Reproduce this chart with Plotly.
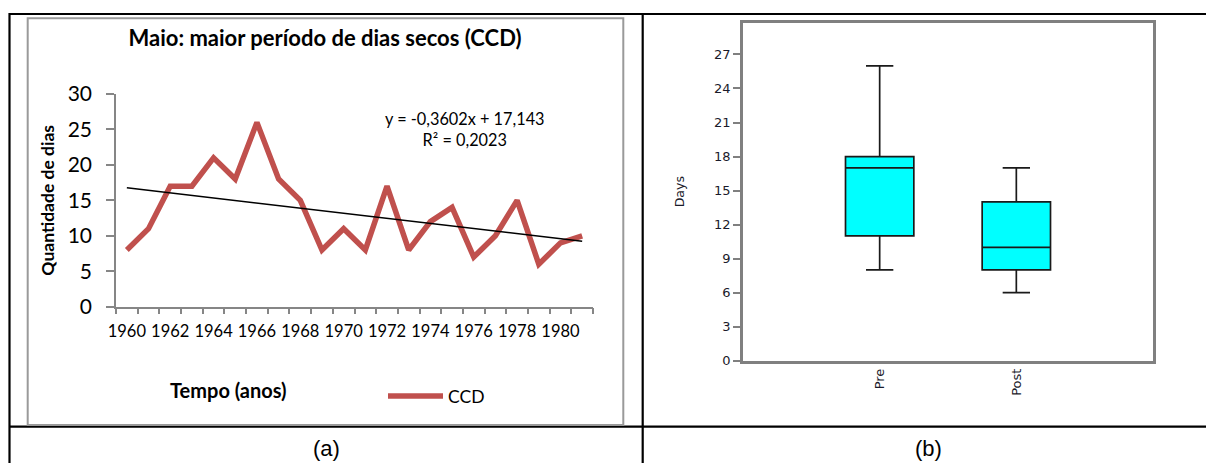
import plotly.graph_objects as go

# ---------------- data ----------------
years = list(range(1960, 1982))
ccd = [8, 11, 17, 17, 21, 18, 26, 18, 15, 8, 11, 8, 17, 8, 12, 14, 7, 10, 15, 6, 9, 10]
trend_slope = -0.3602
trend_intercept = 17.143
trend_r2 = "0,2023"
year_ticks = years[::2]

groups = ["Pre", "Post"]
pre_values = ccd[:11]
post_values = ccd[11:]
days_ticks = list(range(0, 28, 3))

# ---------------- helpers ----------------
W, H = 1206, 463


def px(x):
    return x / W


def py(y):
    return 1 - y / H


trend = [trend_slope * (i + 1) + trend_intercept for i in range(len(years))]

LATO = "Lato, Carlito, Calibri, sans-serif"
TAHOMA = "DejaVu Sans, Tahoma, sans-serif"
AXIS_GRAY = "#868686"

fig = go.Figure()

fig.add_trace(go.Scatter(
    x=years, y=ccd, mode="lines", name="CCD",
    line=dict(color="#C0504D", width=5.5),
    xaxis="x", yaxis="y", showlegend=True,
))
fig.add_trace(go.Scatter(
    x=years, y=trend, mode="lines", name="Linear (CCD)",
    line=dict(color="black", width=1.5),
    xaxis="x", yaxis="y", showlegend=False,
))

for name, vals in zip(groups, [pre_values, post_values]):
    fig.add_trace(go.Box(
        y=vals, x=[name] * len(vals), name=name,
        xaxis="x2", yaxis="y2", boxpoints=False,
        quartilemethod="exclusive",
        fillcolor="#00FFFF", line=dict(color="#1a1a1a", width=1.7),
        width=0.5, whiskerwidth=0.4, showlegend=False,
    ))

shapes = []
# table borders
tbl = dict(type="line", xref="paper", yref="paper", line=dict(color="black", width=2.2))
shapes.append({**tbl, "x0": px(9), "x1": 1, "y0": py(14), "y1": py(14)})
shapes.append({**tbl, "x0": px(9), "x1": 1, "y0": py(426.7), "y1": py(426.7)})
shapes.append({**tbl, "x0": px(9.5), "x1": px(9.5), "y0": py(13), "y1": 0})
shapes.append({**tbl, "x0": px(642.7), "x1": px(642.7), "y0": py(13), "y1": 0})
# Excel chart frame
shapes.append(dict(type="rect", xref="paper", yref="paper",
                   x0=px(27.7), x1=px(623.3), y0=py(425), y1=py(18.3),
                   line=dict(color="#9A9A9A", width=2)))

fig.update_layout(
    template="none",
    width=W, height=H,
    margin=dict(l=0, r=0, t=0, b=0, autoexpand=False),
    paper_bgcolor="white", plot_bgcolor="white",
    shapes=shapes,
    title=dict(text="<b>Maio: maior período de dias secos (CCD)</b>",
               x=px(325), y=py(38), xanchor="center", yanchor="middle",
               xref="paper", yref="paper", automargin=False,
               font=dict(family=LATO, size=22, color="black")),
    xaxis=dict(domain=[px(116), px(593)], anchor="y", automargin=False,
               range=[1959.5, 1981.5], tickmode="array", tickvals=year_ticks,
               ticks="outside", ticklen=9, tickcolor="rgba(0,0,0,0)",
               minor=dict(tickmode="linear", tick0=1959.5, dtick=1, ticks="outside",
                          ticklen=6, tickcolor=AXIS_GRAY, tickwidth=1.5),
               showline=True, linecolor=AXIS_GRAY, linewidth=1.5,
               showgrid=False, zeroline=False,
               tickfont=dict(family=LATO, size=16.5, color="black")),
    yaxis=dict(domain=[py(306.7), py(94)], anchor="x", automargin=False,
               range=[0, 30], dtick=5, tick0=0,
               ticks="outside", ticklen=8, tickcolor=AXIS_GRAY, tickwidth=1.5,
               ticklabelstandoff=10,
               showline=True, linecolor=AXIS_GRAY, linewidth=1.5,
               showgrid=False, zeroline=False,
               tickfont=dict(family=LATO, size=21, color="black"),
               title=dict(text="<b>Quantidade de dias</b>", standoff=9,
                          font=dict(family=LATO, size=17.5, color="black"))),
    xaxis2=dict(domain=[px(743), px(1153)], anchor="y2", automargin=False,
                type="category", categoryorder="array", categoryarray=groups,
                range=[-1, 2], ticks="", tickangle=-90,
                showline=True, mirror=True, linecolor="#808080", linewidth=2.5,
                showgrid=False, zeroline=False,
                tickfont=dict(family=TAHOMA, size=13, color="#1a1a2a")),
    yaxis2=dict(domain=[py(360.7), py(22.7)], anchor="x2", automargin=False,
                range=[0, 29.8], tickmode="array", tickvals=days_ticks,
                ticks="outside", ticklen=7, tickcolor="#808080", tickwidth=1.5,
                showline=True, mirror=True, linecolor="#808080", linewidth=2.5,
                showgrid=False, zeroline=False,
                tickfont=dict(family=TAHOMA, size=13, color="#1a1a2a"),
                title=dict(text="Days", standoff=27,
                           font=dict(family=TAHOMA, size=12.5, color="#1a1a2a"))),
    legend=dict(x=px(383), y=py(396), xanchor="left", yanchor="middle",
                bgcolor="rgba(0,0,0,0)", borderwidth=0,
                font=dict(family=LATO, size=17.5, color="black"),
                itemwidth=55),
    annotations=[
        dict(text="y = -0,3602x + 17,143<br>R² = " + trend_r2,
             x=px(465), y=py(129), xref="paper", yref="paper",
             xanchor="center", yanchor="middle", showarrow=False, align="center",
             font=dict(family=LATO, size=16.3, color="black")),
        dict(text="<b>Tempo (anos)</b>", x=px(228), y=py(390),
             xref="paper", yref="paper", xanchor="center", yanchor="middle",
             showarrow=False, font=dict(family=LATO, size=20, color="black")),
        dict(text="(a)", x=px(326), y=py(448), xref="paper", yref="paper",
             xanchor="center", yanchor="middle", showarrow=False,
             font=dict(family="Liberation Sans, Arial, sans-serif", size=22, color="black")),
        dict(text="(b)", x=px(928), y=py(448), xref="paper", yref="paper",
             xanchor="center", yanchor="middle", showarrow=False,
             font=dict(family="Liberation Sans, Arial, sans-serif", size=22, color="black")),
    ],
)

# remove the default 8px page margin so the 1206x463 figure fills the window exactly
fig.write_html(
    "out.html",
    config={"displayModeBar": False},
    post_script="document.body.style.margin='0';document.body.style.overflow='hidden';",
)
